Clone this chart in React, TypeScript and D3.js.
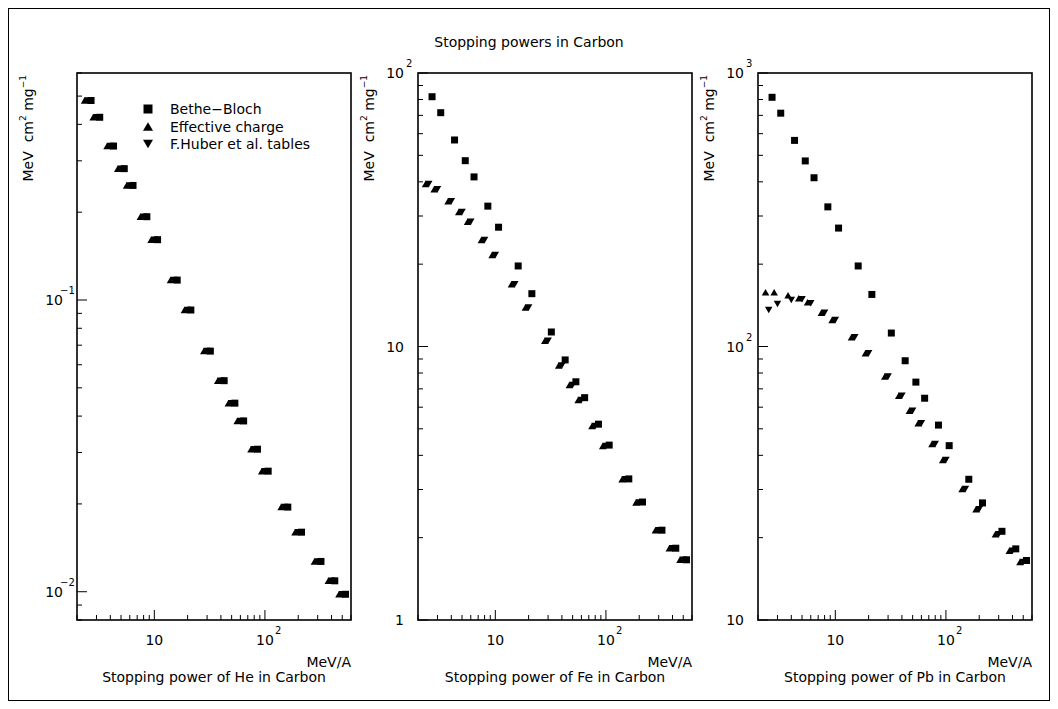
import React from "react";
import * as d3 from "d3";

// ---- data ----
const energyBetheBloch = [2.68, 3.21, 4.28, 5.35, 6.42, 8.56, 10.7, 16.1, 21.4, 32.1, 42.8, 53.5, 64.2, 85.6, 107, 161, 214, 321, 428, 535];
const energyEffectiveCharge = [2.34, 2.8, 3.74, 4.67, 5.61, 7.48, 9.35, 14.0, 18.7, 28.0, 37.4, 46.7, 56.1, 74.8, 93.5, 140, 187, 280, 374, 467];
const energyHuber = [2.5, 3, 4, 5, 6, 8, 10, 15, 20, 30, 40, 50, 60, 80, 100, 150, 200, 300, 400, 500];

const heBetheBloch = [0.483, 0.423, 0.337, 0.282, 0.247, 0.193, 0.161, 0.117, 0.0924, 0.0668, 0.0529, 0.0443, 0.0385, 0.0308, 0.0259, 0.0195, 0.016, 0.0127, 0.0109, 0.0098];
const heEffectiveCharge = [0.483, 0.423, 0.337, 0.282, 0.247, 0.193, 0.161, 0.117, 0.0924, 0.0668, 0.0529, 0.0443, 0.0385, 0.0308, 0.0259, 0.0195, 0.016, 0.0127, 0.0109, 0.0098];
const heHuber = [0.483, 0.423, 0.337, 0.282, 0.247, 0.193, 0.161, 0.117, 0.0924, 0.0668, 0.0529, 0.0443, 0.0385, 0.0308, 0.0259, 0.0195, 0.016, 0.0127, 0.0109, 0.0098];

const feBetheBloch = [81.9, 71.6, 56.9, 47.8, 41.7, 32.6, 27.3, 19.7, 15.6, 11.3, 8.93, 7.43, 6.5, 5.2, 4.36, 3.28, 2.7, 2.13, 1.83, 1.66];
const feEffectiveCharge = [39.3, 37.6, 34.0, 31.0, 28.6, 24.5, 21.6, 16.9, 13.9, 10.5, 8.53, 7.23, 6.37, 5.12, 4.33, 3.27, 2.69, 2.13, 1.83, 1.66];
const feHuber = [39.3, 37.6, 34.0, 31.0, 28.6, 24.5, 21.6, 16.9, 13.9, 10.5, 8.53, 7.23, 6.37, 5.12, 4.33, 3.27, 2.69, 2.13, 1.83, 1.66];

const pbBetheBloch = [815, 713, 567, 477, 414, 324, 271, 197, 155, 112, 88.7, 74.1, 64.7, 51.6, 43.4, 32.7, 26.8, 21.1, 18.2, 16.5];
const pbEffectiveCharge = [158, 158, 154, 150, 145, 133, 125, 108, 94.4, 77.6, 66.1, 58.2, 52.4, 44.0, 38.5, 30.1, 25.4, 20.6, 17.9, 16.3];
const pbHuber = [136, 143, 148, 149, 144, 133, 125, 108, 94.4, 77.6, 66.1, 58.2, 52.4, 44.0, 38.5, 30.1, 25.4, 20.6, 17.9, 16.3];

const ions = ["He", "Fe", "Pb"];
const yDomains: [number, number][] = [[0.008, 0.6], [1, 100], [10, 1000]];
const xDomain: [number, number] = [2, 600];
const legendLabels = ["Bethe\u2212Bloch", "Effective charge", "F.Huber et al. tables"];
const chartTitle = "Stopping powers in Carbon";
const xUnit = "MeV/A";

const seriesBB = [heBetheBloch, feBetheBloch, pbBetheBloch];
const seriesEC = [heEffectiveCharge, feEffectiveCharge, pbEffectiveCharge];
const seriesHU = [heHuber, feHuber, pbHuber];

// ---- layout ----
const W = 1058;
const H = 709;
const FONT = "'DejaVu Sans', sans-serif";
const panelLefts = [77, 418, 758];
const panelW = 274;
const top = 73;
const bottom = 620;

const sqPath = (s: number) => `M${-s / 2},${-s / 2}h${s}v${s}h${-s}Z`;
const upPath = (w: number, h: number) => `M${-w / 2},${h / 2}L${w / 2},${h / 2}L0,${-h / 2}Z`;
const downPath = (w: number, h: number) => `M${-w / 2},${-h / 2}L${w / 2},${-h / 2}L0,${h / 2}Z`;

function isMajor(v: number) {
  const l = Math.log10(v);
  return Math.abs(l - Math.round(l)) < 1e-6;
}

function Panel({ idx }: { idx: number }) {
  const left = panelLefts[idx];
  const right = left + panelW;
  const x = d3.scaleLog().domain(xDomain).range([left, right]);
  const y = d3.scaleLog().domain(yDomains[idx]).range([bottom, top]);
  const xt = x.ticks();
  const yt = y.ticks();
  const bb = seriesBB[idx];
  const ec = seriesEC[idx];
  const hu = seriesHU[idx];

  return (
    <g>
      {yt.map((v, i) => {
        const yy = y(v);
        const len = isMajor(v) ? 10 : 5;
        return <line key={"yt" + i} x1={left} x2={left + len} y1={yy} y2={yy} stroke="#000" strokeWidth={1} />;
      })}
      {xt.map((v, i) => {
        const xx = x(v);
        const len = isMajor(v) ? 10 : 5;
        return <line key={"xt" + i} x1={xx} x2={xx} y1={bottom} y2={bottom - len} stroke="#000" strokeWidth={1} />;
      })}
      {yt.filter(isMajor).map((v, i) => {
        const e = Math.round(Math.log10(v));
        const yy = y(v) + 5;
        const lx = left - 14;
        if (e === 0 || e === 1) {
          return (
            <text key={"yl" + i} x={lx} y={yy} textAnchor="end" fontSize={14} fontFamily={FONT}>
              {e === 0 ? "1" : "10"}
            </text>
          );
        }
        return (
          <g key={"yl" + i}>
            <text x={lx} y={yy} textAnchor="end" fontSize={14} fontFamily={FONT}>10</text>
            <text x={e < 0 ? lx - 3 : lx + 2} y={yy - 11} textAnchor="start" fontSize={10} fontFamily={FONT}>
              {e < 0 ? "\u2212" + String(-e) : String(e)}
            </text>
          </g>
        );
      })}
      {xt.filter(isMajor).filter((v) => v >= 10).map((v, i) => {
        const e = Math.round(Math.log10(v));
        const xx = x(v);
        return (
          <g key={"xl" + i}>
            <text x={xx} y={645} textAnchor="middle" fontSize={14} fontFamily={FONT}>10</text>
            {e > 1 && (
              <text x={xx + 10} y={634} textAnchor="start" fontSize={10} fontFamily={FONT}>{String(e)}</text>
            )}
          </g>
        );
      })}
      <rect x={left} y={top} width={panelW} height={bottom - top} fill="none" stroke="#000" strokeWidth={1.6} />
      {ec.map((v, i) => (
        <path key={"ec" + i} d={upPath(7.5, 6.5)} transform={`translate(${x(energyEffectiveCharge[i])},${y(v)})`} fill="#000" />
      ))}
      {hu.map((v, i) => (
        <path key={"hu" + i} d={downPath(7.5, 6.5)} transform={`translate(${x(energyHuber[i])},${y(v)})`} fill="#000" />
      ))}
      {bb.map((v, i) => (
        <path key={"bb" + i} d={sqPath(7)} transform={`translate(${x(energyBetheBloch[i])},${y(v)})`} fill="#000" />
      ))}
      <text x={right} y={667} textAnchor="end" fontSize={14} fontFamily={FONT}>{xUnit}</text>
      <text x={(left + right) / 2} y={682} textAnchor="middle" fontSize={14} fontFamily={FONT}>
        {`Stopping power of ${ions[idx]} in Carbon`}
      </text>
      <text transform={`translate(${left - 44},${top + 2}) rotate(-90)`} textAnchor="end" fontSize={14} fontFamily={FONT} style={{ whiteSpace: "pre" }}>
        <tspan>{"MeV  cm"}</tspan>
        <tspan fontSize={9} dy={-7}>2</tspan>
        <tspan dy={7}>{" mg"}</tspan>
        <tspan fontSize={9} dy={-7}>{"\u22121"}</tspan>
      </text>
      {idx === 0 && (
        <g>
          {legendLabels.map((lab, i) => {
            const ly = top + 36 + i * 17.5;
            const lx = left + 71;
            const d = i === 0 ? sqPath(9) : i === 1 ? upPath(10, 8.5) : downPath(10, 8.5);
            return (
              <g key={"lg" + i}>
                <path d={d} transform={`translate(${lx},${ly})`} fill="#000" />
                <text x={lx + 22} y={ly + 5} fontSize={14} fontFamily={FONT}>{lab}</text>
              </g>
            );
          })}
        </g>
      )}
    </g>
  );
}

export default function App() {
  return (
    <svg width={W} height={H} style={{ position: "absolute", left: 0, top: 0, background: "#fff" }}>
      <rect x={0} y={0} width={W} height={H} fill="#fff" />
      <rect x={8.5} y={8.5} width={1041} height={692} fill="none" stroke="#000" strokeWidth={1} />
      <text x={529} y={47} textAnchor="middle" fontSize={14} fontFamily={FONT}>{chartTitle}</text>
      {ions.map((_, i) => (
        <Panel key={i} idx={i} />
      ))}
    </svg>
  );
}
